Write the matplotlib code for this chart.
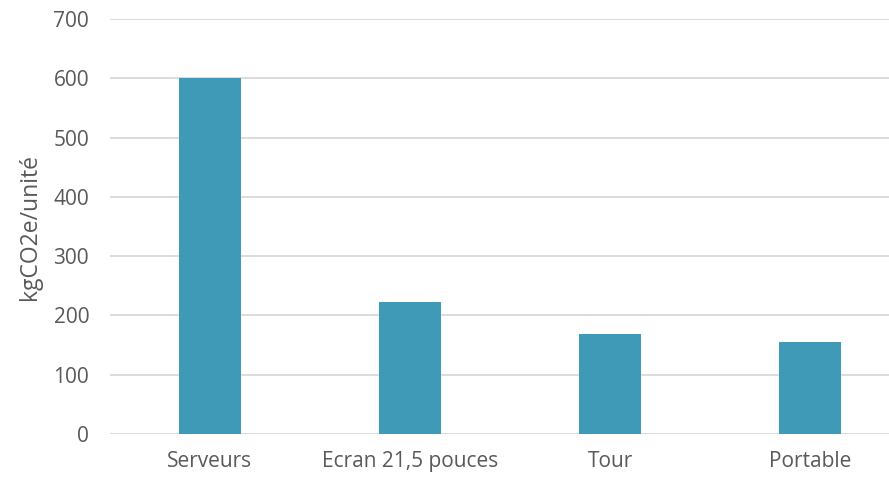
import matplotlib.pyplot as plt

categories = ['Serveurs', 'Ecran 21,5 pouces', 'Tour', 'Portable']
values = [600, 222, 168, 155]

plt.rcParams['font.family'] = ['Open Sans', 'DejaVu Sans']

fig = plt.figure(figsize=(8.89, 4.78), dpi=100)
# l'axe déborde à droite, comme dans l'image d'origine
ax = fig.add_axes([110 / 889, 1 - 434 / 478, 800 / 889, (434 - 19) / 478])

x = range(len(categories))
ax.bar(x, values, width=0.31, color='#3F9AB8', zorder=2)

ax.set_xlim(-0.5, len(categories) - 0.5)
ax.set_ylim(0, 700)
ax.set_yticks(range(0, 701, 100))
ax.set_xticks(list(x))
ax.set_xticklabels(categories)

ax.grid(axis='y', color='#d9d9d9', linewidth=1.3, zorder=0)
for s in ax.spines.values():
    s.set_visible(False)
ax.tick_params(length=0, labelsize=15, colors='#595959')
ax.tick_params(axis='x', pad=12)
ax.tick_params(axis='y', pad=15)
ax.set_ylabel('kgCO2e/unité', fontsize=16.5, color='#595959', labelpad=8)

plt.savefig('out.png', dpi=100)
